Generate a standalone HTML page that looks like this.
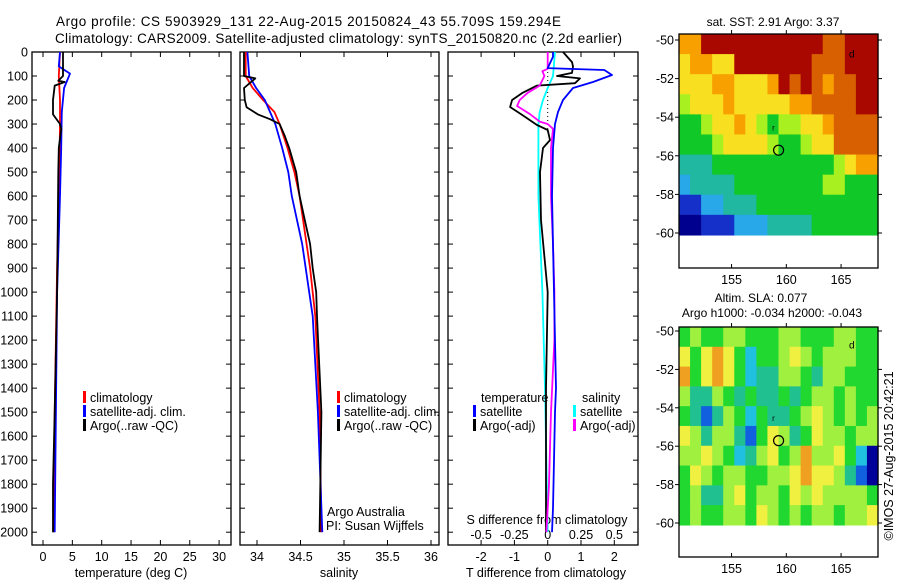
<!DOCTYPE html>
<html><head><meta charset="utf-8"><style>
html,body{margin:0;padding:0;background:#fff;}
svg{display:block;font-family:"Liberation Sans",sans-serif;}
</style></head><body>
<svg id="fig" width="900" height="580" viewBox="0 0 900 580" xmlns="http://www.w3.org/2000/svg">
<text x="56" y="26" font-size="13.5" textLength="505">Argo profile: CS 5903929_131 22-Aug-2015 20150824_43 55.709S 159.294E</text>
<text x="55" y="43" font-size="13.5" textLength="567">Climatology: CARS2009. Satellite-adjusted climatology: synTS_20150820.nc (2.2d earlier)</text>
<g id="g"></g>
</svg>
<script>
// ---- data ----
const depthTicks=[0,100,200,300,400,500,600,700,800,900,1000,1100,1200,1300,1400,1500,1600,1700,1800,1900,2000];
const tempTicks=[0,5,10,15,20,25,30];
const salTicks=[34,34.5,35,35.5,36];
const salTickLabels=["34","34.5","35","35.5","36"];
const tdiffTicks=[-2,-1,0,1,2];
const sdiffTicks=[-0.5,-0.25,0,0.25,0.5];
const sdiffTickLabels=["-0.5","-0.25","0","0.25","0.5"];

const tempClimDepth=[0,100,200,300,500,900,1500,2000];
const tempClim=[2.9,2.7,2.9,2.9,2.8,2.4,2.0,1.8];
const tempSatDepth=[0,60,90,150,250,400,600,1000,1500,2000];
const tempSat=[2.9,2.7,4.6,3.6,3.2,3.1,2.9,2.4,2.2,2.0];
const tempArgoDepth=[0,90,100,120,125,140,200,260,300,320,400,500,1000,1500,1800,2000];
const tempArgo=[3.4,3.4,3.4,2.6,3.7,2.0,1.7,1.7,2.9,3.1,2.7,2.6,2.4,2.0,1.7,1.7];

const salClimDepth=[0,100,150,200,250,300,400,500,600,700,800,900,1000,1100,1500,2000];
const salClim=[33.87,33.87,33.95,34.07,34.2,34.26,34.35,34.43,34.49,34.53,34.57,34.61,34.64,34.67,34.72,34.74];
const salSatDepth=[0,100,150,200,300,400,500,600,700,800,900,1000,1100,1500,2000];
const salSat=[33.89,33.91,33.99,34.09,34.21,34.29,34.36,34.4,34.46,34.52,34.56,34.6,34.64,34.7,34.75];
const salArgoDepth=[0,100,110,150,200,230,260,280,300,350,400,500,600,700,800,900,1000,1100,1500,2000];
const salArgo=[33.85,33.85,33.98,33.85,33.86,33.88,34.01,34.15,34.26,34.32,34.37,34.45,34.49,34.55,34.61,34.64,34.68,34.69,34.74,34.72];

const tdSatDepth=[0,20,67,75,96,125,150,200,250,300,400,600,1000,1400,1500,1900,2000];
const tdSat=[0.16,0.16,0,1.7,1.93,1.36,0.76,0.46,0.31,0.22,0.16,0.13,0.19,0.25,0.22,0.16,0.13];
const tdArgoDepth=[0,42,60,87,100,110,130,140,171,200,229,262,304,325,367,400,500,700,1000,1400,2000];
const tdArgo=[0.46,0.73,0.76,0.73,0.28,0.97,0.82,-0.32,-0.77,-1.07,-1.13,-0.77,-0.32,0,0.07,-0.14,-0.23,-0.2,0,-0.05,-0.05];
const sdSatDepth=[0,100,150,200,250,300,400,600,1000,1400,2000];
const sdSat=[0.055,0.04,0,-0.035,-0.06,-0.07,-0.07,-0.07,-0.04,-0.02,0];
const sdArgoDepth=[0,70,80,100,140,170,200,225,260,290,300,320,400,600,800,1000,1200,1500,1800,2000];
const sdArgo=[0,0,-0.04,-0.025,-0.06,-0.15,-0.21,-0.23,-0.13,-0.06,0,0.04,0.025,0.025,0.04,0.05,0.05,0.025,0.01,-0.01];

const lonTicks=[155,160,165];
const latTicks=[-50,-52,-54,-56,-58,-60];
const sstGrid=[
[7,7,9,9,9,9,9,9,9,9,9,9,9,8,8,9,9,9],
[6,7,7,6,6,9,9,9,9,9,9,9,8,8,8,9,9,9],
[6,6,6,7,7,6,6,6,7,9,8,9,8,7,8,8,9,9],
[5,6,6,6,7,6,6,6,6,6,7,7,8,8,8,8,9,9],
[4,4,5,6,6,7,6,5,4,5,5,6,6,7,8,8,8,8],
[4,4,4,5,6,6,6,6,5,4,4,5,6,6,8,8,8,8],
[3,3,3,4,4,4,4,4,4,4,4,4,4,4,5,6,7,7],
[2,3,3,3,3,4,4,4,4,4,4,4,4,5,5,4,4,4],
[1,1,2,2,3,3,3,4,4,4,4,4,4,4,4,4,4,4],
[0,0,1,1,1,2,2,2,3,3,3,3,4,4,4,4,4,4]];
const slaGrid=[
[4,5,4,4,5,5,4,4,4,5,5,4,4,4,5,5,4,4],
[6,4,6,7,6,4,2,4,4,5,6,5,4,5,5,5,4,4],
[7,4,6,7,6,4,2,3,3,5,5,4,3,5,5,4,4,4],
[5,3,3,5,4,3,4,3,3,4,3,4,5,5,4,5,4,4],
[4,3,1,3,5,4,2,4,3,3,4,5,6,5,4,5,4,5],
[6,5,3,5,5,3,1,4,6,5,3,4,6,5,5,4,5,5],
[5,5,6,5,4,2,3,5,6,4,5,7,5,5,6,4,2,0],
[4,6,5,4,5,5,4,4,5,5,6,7,6,6,5,3,1,0],
[4,5,3,3,5,6,4,5,5,4,6,5,6,5,5,5,5,4],
[4,5,4,4,5,5,4,6,5,4,5,4,5,5,4,5,5,6]];
const sstPalette=['#00008f','#1530c8','#28a8e8','#20b8a0','#10c828','#a8f020','#f8e020','#f8a000','#d86000','#a80800'];
const slaPalette=['#00009a','#1060e0','#20c0e0','#20c090','#20d830','#a0f040','#f0f040','#f0a020'];
const argoLon=159.294, argoLat=-55.709;

// ---- helpers ----
const NS="http://www.w3.org/2000/svg";
const G=document.getElementById('g');
function mk(tag,attrs,parent){const e=document.createElementNS(NS,tag);for(const k in attrs)e.setAttribute(k,attrs[k]);(parent||G).appendChild(e);return e;}
const PT=52, PB=545;
const yD=d=>PT+d*0.2401;
const xT=v=>43+v*5.87;
const xS=v=>257+(v-34)*87;
const xTd=v=>547.7+v*33.3;
const xSd=v=>547.7+v*133.2;
const panels=[{l:32,r:231,name:'temperature-panel'},{l:240,r:439,name:'salinity-panel'},{l:448,r:638,name:'difference-panel'}];

panels.forEach(p=>{
  const r=mk('rect',{x:p.l,y:PT,width:p.r-p.l,height:PB-PT,fill:'none',stroke:'#000','stroke-width':1.3});
  
  
  depthTicks.forEach(d=>{
    mk('line',{x1:p.l,x2:p.l+5,y1:yD(d),y2:yD(d),stroke:'#000'});
    mk('line',{x1:p.r,x2:p.r-5,y1:yD(d),y2:yD(d),stroke:'#000'});
  });
});
depthTicks.forEach(d=>{
  const t=mk('text',{x:28,y:yD(d)+4.5,'font-size':12.5,'text-anchor':'end'});t.textContent=d;
  
  
});
function xticks(arr,labels,f,p,ly){
  arr.forEach((v,i)=>{
    const x=f(v);
    mk('line',{x1:x,x2:x,y1:PB,y2:PB-5,stroke:'#000'});
    mk('line',{x1:x,x2:x,y1:PT,y2:PT+5,stroke:'#000'});
    const t=mk('text',{x:x,y:ly,'font-size':12.5,'text-anchor':'middle'});t.textContent=labels[i];
    
    
  });
}
xticks(tempTicks,tempTicks.map(String),xT,panels[0],561);
xticks(salTicks,salTickLabels,xS,panels[1],561);
xticks(tdiffTicks,tdiffTicks.map(String),xTd,panels[2],561);
sdiffTicks.forEach((v,i)=>{
  const t=mk('text',{x:xSd(v),y:539,'font-size':12.5,'text-anchor':'middle'});t.textContent=sdiffTickLabels[i];
  
  
});
function label(x,y,txt,name,anchor,size){const t=mk('text',{x:x,y:y,'font-size':size||12.5,'text-anchor':anchor||'start'});t.textContent=txt;
  
  return t;}
label(131,577,'temperature (deg C)','temperature-axis-title','middle');
label(339,577,'salinity','salinity-axis-title','middle');
label(546,577,'T difference from climatology','t-diff-axis-title','middle');
label(547,524,'S difference from climatology','s-diff-axis-title','middle');
label(327,516,'Argo Australia','argo-australia-note');
label(326,530,'PI: Susan Wijffels','pi-note');

const z=mk('line',{x1:xTd(0),x2:xTd(0),y1:PT,y2:yD(320),stroke:'#000','stroke-dasharray':'1,3'});



function series(depths,vals,fx,color,name){
  const pts=depths.map((d,i)=>fx(vals[i]).toFixed(1)+','+yD(d).toFixed(1)).join(' ');
  const pl=mk('polyline',{points:pts,fill:'none',stroke:color,'stroke-width':1.8,'stroke-linejoin':'round'});
  
  
}
series(tempClimDepth,tempClim,xT,'#ff0000','temp-climatology-line');
series(tempSatDepth,tempSat,xT,'#0000ff','temp-satellite-line');
series(tempArgoDepth,tempArgo,xT,'#000','temp-argo-line');
series(salClimDepth,salClim,xS,'#ff0000','sal-climatology-line');
series(salSatDepth,salSat,xS,'#0000ff','sal-satellite-line');
series(salArgoDepth,salArgo,xS,'#000','sal-argo-line');
series(sdSatDepth,sdSat,xSd,'#00ffff','s-diff-satellite-line');
series(tdArgoDepth,tdArgo,xTd,'#000','t-diff-argo-line');
series(sdArgoDepth,sdArgo,xSd,'#ff00ff','s-diff-argo-line');
series(tdSatDepth,tdSat,xTd,'#0000ff','t-diff-satellite-line');

function legend(x,y,color,txt,name){
  const m=mk('rect',{x:x,y:y-11,width:3,height:12,fill:color});
  
  
  label(x+7,y,txt,name);
}
[[0,'#ff0000','climatology'],[1,'#0000ff','satellite-adj. clim.'],[2,'#000','Argo(..raw -QC)']].forEach(e=>{
  legend(83,402+e[0]*14,e[1],e[2],'temp-legend-entry');
  legend(337,402+e[0]*14,e[1],e[2],'sal-legend-entry');
});
label(481,402,'temperature','diff-legend-temperature-heading');
label(582,402,'salinity','diff-legend-salinity-heading');
legend(473,416,'#0000ff','satellite','diff-legend-t-satellite');
legend(473,430,'#000','Argo(-adj)','diff-legend-t-argo');
legend(573,416,'#00ffff','satellite','diff-legend-s-satellite');
legend(573,430,'#ff00ff','Argo(-adj)','diff-legend-s-argo');

function drawMap(top,lat50y,lat60y,frameBottom,grid,pal,name,labelY){
  const L=679,R=878;
  const lonX=lon=>L+(lon-150.2)*10.95;
  const latY=lat=>lat50y+(-50-lat)*(lat60y-lat50y)/10;
  const gg=mk('g',{});
  
  
  const rows=grid.length, cols=grid[0].length;
  const cw=(R-L)/cols, y0=top, y1=latY(-60.1), ch=(y1-y0)/rows;
  grid.forEach((row,i)=>row.forEach((v,j)=>{
    const c=mk('rect',{x:(L+j*cw).toFixed(2),y:(y0+i*ch).toFixed(2),width:(cw+0.6).toFixed(2),height:(ch+0.6).toFixed(2),fill:pal[v]},gg);
    
    
  }));
  const fr=mk('rect',{x:L,y:top,width:R-L,height:frameBottom-top,fill:'none',stroke:'#000','stroke-width':1.3});
  
  
  lonTicks.forEach(lon=>{
    const x=lonX(lon);
    mk('line',{x1:x,x2:x,y1:top,y2:top-4,stroke:'#000'});
    mk('line',{x1:x,x2:x,y1:frameBottom,y2:frameBottom-4,stroke:'#000'});
    label(x,labelY,String(lon),'lon-tick-label','middle');
  });
  latTicks.forEach(lat=>{
    const y=latY(lat);
    mk('line',{x1:L,x2:L-4,y1:y,y2:y,stroke:'#000'});
    mk('line',{x1:R,x2:R+4,y1:y,y2:y,stroke:'#000'});
    label(674,y+4.5,String(lat),'lat-tick-label','end');
  });
  const c=mk('circle',{cx:lonX(argoLon),cy:latY(argoLat),r:5,fill:'none',stroke:'#000','stroke-width':1.2});
  
  
  label(lonX(158.8)-1,latY(-54.7),'r','float-r-marker','start',8);
  label(lonX(166)-3,latY(-50.9),'d','float-d-marker','start',10);
}
drawMap(34,40,233,268,sstGrid,sstPalette,'sst-map',284);
drawMap(327,331,523,557,slaGrid,slaPalette,'sla-map',573);
label(773,26,'sat. SST: 2.91  Argo: 3.37','sst-map-title','middle',12);
label(761,302,'Altim. SLA: 0.077','sla-map-title','middle',12);
label(772,317,'Argo h1000: -0.034 h2000: -0.043','sla-map-subtitle','middle',12);
const im=label(0,0,'©IMOS 27-Aug-2015 20:42:21','imos-timestamp','middle',12.5);
im.setAttribute('transform','translate(893,456) rotate(-90)');
</script>
</body></html>
